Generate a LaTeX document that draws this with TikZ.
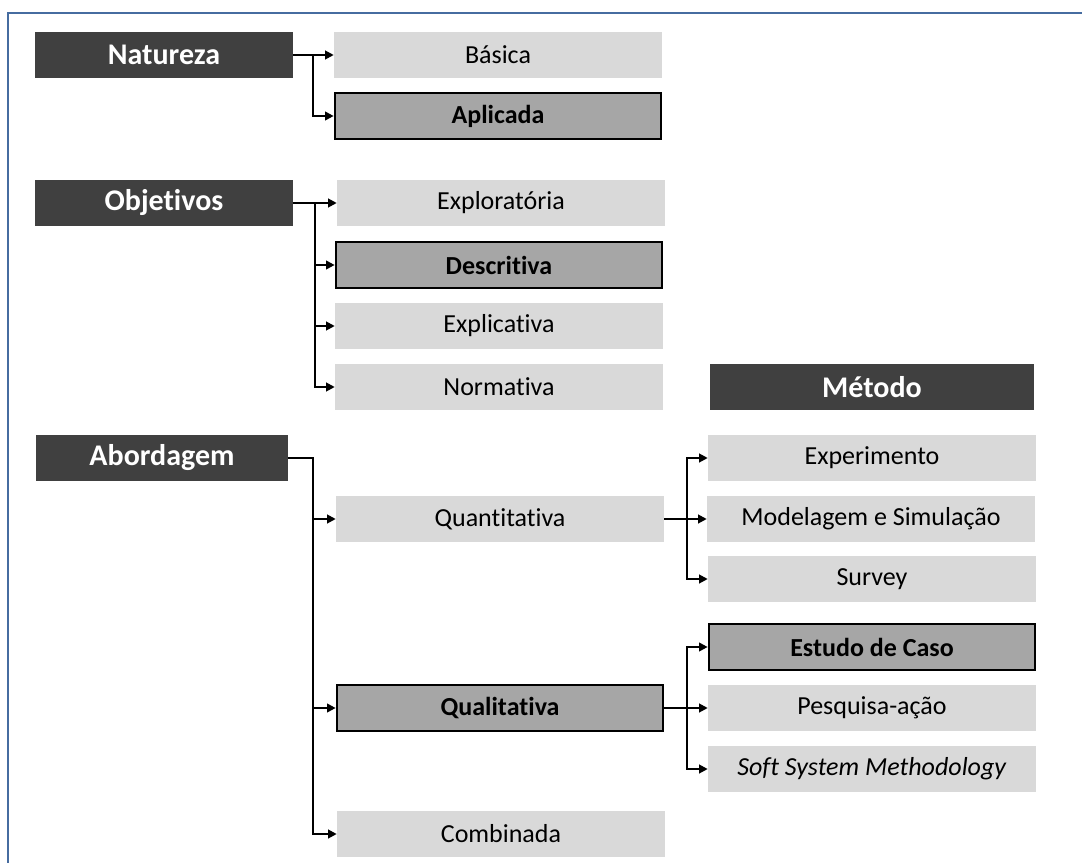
\documentclass[tikz,border=0pt]{standalone}
\usepackage{fontspec}
\setmainfont{Carlito}[Ligatures=NoCommon]
\usetikzlibrary{arrows.meta}

\definecolor{headgray}{RGB}{64,64,64}
\definecolor{optgray}{RGB}{217,217,217}
\definecolor{selgray}{RGB}{166,166,166}
\definecolor{frameblue}{RGB}{70,108,160}

\tikzstyle{head box}=[fill=headgray, text=white, font=\fontsize{22.5}{26}\selectfont\bfseries, minimum width=193pt, minimum height=35pt, inner sep=0pt]
\tikzstyle{opt box}=[fill=optgray, font=\fontsize{19.5}{23}\selectfont, minimum width=246pt, minimum height=35pt, inner sep=0pt]
\tikzstyle{sel box}=[opt box, fill=selgray, draw=black, line width=1.5pt, font=\fontsize{19.5}{23}\selectfont\bfseries, minimum width=245pt, minimum height=34pt]
\tikzstyle{link}=[line width=1.5pt]

\begin{document}
\begin{tikzpicture}[x=0.75pt, y=-0.75pt, >={Triangle[length=6.5pt,width=6.5pt]}]
	\useasboundingbox (0,0) rectangle (1082,863);
	\draw[frameblue, line width=1.5pt] (8,863) -- (8,13) -- (1082,13);

	\node[head box] (natureza) at (164,55) {Natureza};
	\node[opt box] (basica) at (498,55) {Básica};
	\node[sel box] (aplicada) at (498,116) {Aplicada};

	\node[head box] (objetivos) at (164,203) {Objetivos};
	\node[opt box] (exploratoria) at (501,203) {Exploratória};
	\node[sel box] (descritiva) at (499,265) {Descritiva};
	\node[opt box] (explicativa) at (499,326) {Explicativa};
	\node[opt box] (normativa) at (499,387) {Normativa};

	\node[head box, minimum width=243pt] (metodo) at (872,387) {Método};

	\node[head box, minimum width=189pt] (abordagem) at (162,458) {Abordagem};
	\node[opt box] (quantitativa) at (500,519) {Quantitativa};
	\node[sel box] (qualitativa) at (500,708) {Qualitativa};
	\node[opt box] (combinada) at (501,834) {Combinada};

	\node[opt box] (experimento) at (872,458) {Experimento};
	\node[opt box] (modelagem) at (871,519) {Modelagem e Simulação};
	\node[opt box] (survey) at (872,579) {Survey};
	\node[sel box] (estudo) at (872,647) {Estudo de Caso};
	\node[opt box] (pesquisa) at (872,708) {Pesquisa-ação};
	\node[opt box] (ssm) at (872,769) {\textit{Soft System Methodology}};

	\coordinate (nat fork) at (313,55);
	\coordinate (obj fork) at (315,203);
	\coordinate (abo fork) at (313,458);
	\coordinate (quan fork) at (687,519);
	\coordinate (qual fork) at (687,708);

	\draw[link,->] (natureza.east) -- (nat fork) -- (basica.west);
	\draw[link,->] (nat fork) |- (aplicada.west);

	\draw[link,->] (objetivos.east) -- (obj fork) -- (exploratoria.west);
	\draw[link,->] (obj fork) |- (descritiva.west);
	\draw[link,->] (obj fork) |- (explicativa.west);
	\draw[link,->] (obj fork) |- (normativa.west);

	\draw[link,->] (abordagem.east) -- (abo fork) |- (combinada.west);
	\draw[link,->] (abo fork) |- (quantitativa.west);
	\draw[link,->] (abo fork) |- (qualitativa.west);

	\draw[link,->] (quantitativa.east) -- (quan fork) -- (modelagem.west);
	\draw[link,->] (quan fork) |- (experimento.west);
	\draw[link,->] (quan fork) |- (survey.west);

	\draw[link,->] (qualitativa.east) -- (qual fork) -- (pesquisa.west);
	\draw[link,->] (qual fork) |- (estudo.west);
	\draw[link,->] (qual fork) |- (ssm.west);
\end{tikzpicture}
\end{document}
